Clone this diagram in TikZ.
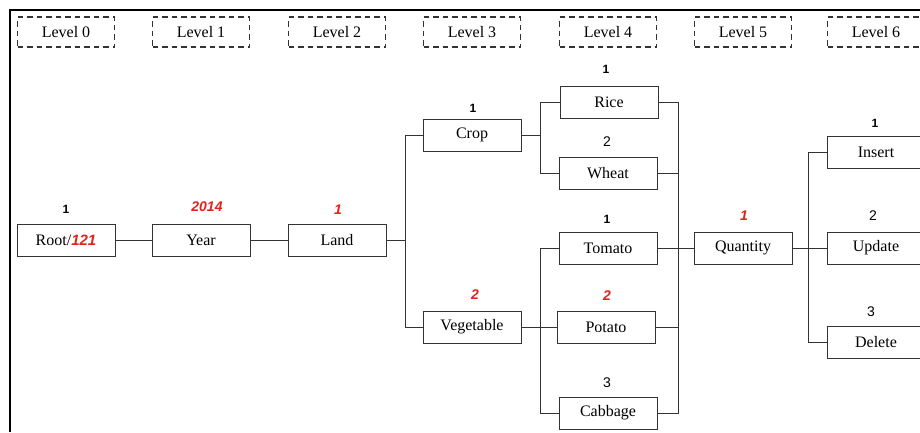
\documentclass[tikz,border=0pt]{standalone}
\usepackage{fontspec}
\setmainfont{Liberation Serif}
\setsansfont{Liberation Sans}
\definecolor{numred}{HTML}{E2231A}
\definecolor{lineg}{HTML}{333333}
\tikzset{
	lvl/.style={draw=lineg, dash pattern=on 5.5pt off 4pt, line width=1.2pt, minimum width=97pt, minimum height=30pt, font=\fontsize{16}{18}\selectfont},
	item/.style={draw=lineg, line width=1pt, minimum width=98pt, minimum height=32pt, font=\fontsize{16}{18}\selectfont},
	num/.style={font=\sffamily\fontsize{14}{14}\selectfont},
	numone/.style={font=\sffamily\bfseries\fontsize{12}{12}\selectfont},
	numred/.style={text=numred, font=\sffamily\bfseries\itshape\fontsize{14}{14}\selectfont},
	wire/.style={draw=lineg, line width=1pt}
}
\begin{document}
\begin{tikzpicture}[x=1pt, y=-1pt]
	\useasboundingbox (0,0) rectangle (920,432);
	\clip (0,0) rectangle (920,432);
	\fill[white] (0,0) rectangle (920,432);
	\draw[line width=2.2pt] (10,432) -- (10,10) -- (920,10);
	
	% levels
	\node[lvl] (l0) at (66, 32) {Level 0};
	\node[lvl] (l1) at (201, 32) {Level 1};
	\node[lvl] (l2) at (337, 32) {Level 2};
	\node[lvl] (l3) at (472, 32) {Level 3};
	\node[lvl] (l4) at (608, 32) {Level 4};
	\node[lvl] (l5) at (743, 32) {Level 5};
	\node[lvl] (l6) at (876, 32) {Level 6};
	
	% boxes
	\node[item] (root) at (66, 240) {Root/{\sffamily\bfseries\itshape\fontsize{15}{18}\selectfont\color{numred}121}};
	\node[item] (year) at (201, 240) {Year};
	\node[item] (land) at (337, 240) {Land};
	\node[item] (crop) at (472, 135) {Crop};
	\node[item] (veg) at (472, 327) {Vegetable};
	\node[item] (rice) at (609, 102) {Rice};
	\node[item] (wheat) at (608, 173) {Wheat};
	\node[item] (tomato) at (608, 248) {Tomato};
	\node[item] (potato) at (606, 327) {Potato};
	\node[item] (cabbage) at (608, 413) {Cabbage};
	\node[item] (qty) at (743, 248) {Quantity};
	\node[item] (ins) at (876, 152) {Insert};
	\node[item] (upd) at (876, 248) {Update};
	\node[item] (del) at (876, 342) {Delete};
	
	% numbers
	\node[numone] (n0) at (66, 209) {1};
	\node[numred] (n1) at (207, 207) {2014};
	\node[numred] (n2) at (338, 210) {1};
	\node[numone] (n3a) at (473, 108) {1};
	\node[numred] (n3b) at (475, 295) {2};
	\node[numone] (n4a) at (606, 69) {1};
	\node[num] (n4b) at (607, 142) {2};
	\node[numone] (n4c) at (607, 219) {1};
	\node[numred] (n4d) at (607, 296) {2};
	\node[num] (n4e) at (607, 383) {3};
	\node[numred] (n5) at (744, 216) {1};
	\node[numone] (n6a) at (875, 123) {1};
	\node[num] (n6b) at (873, 216) {2};
	\node[num] (n6c) at (871, 312) {3};
	
	% joints
	\coordinate (j1) at (405, 240);
	\coordinate (j2) at (540, 135);
	\coordinate (j3) at (540, 327);
	\coordinate (j4) at (678, 248);
	\coordinate (j5) at (808, 248);
	
	\draw[wire] (root) -- (year);
	\draw[wire] (year) -- (land);
	\draw[wire] (land) -- (j1);
	\draw[wire] (j1) |- (crop.west);
	\draw[wire] (j1) |- (veg.west);
	
	\draw[wire] (crop) -- (j2);
	\draw[wire] (j2) |- (rice.west);
	\draw[wire] (j2) |- (wheat.west);
	\draw[wire] (veg) -- (j3);
	\draw[wire] (j3) |- (tomato.west);
	\draw[wire] (j3) |- (potato.west);
	\draw[wire] (j3) |- (cabbage.west);
	
	\draw[wire] (rice.east) -| (j4);
	\draw[wire] (wheat.east) -| (j4);
	\draw[wire] (cabbage.east) -| (j4);
	\draw[wire] (potato.east) -| (j4);
	\draw[wire] (tomato) -- (qty);
	
	\draw[wire] (qty) -- (j5);
	\draw[wire] (j5) |- (ins.west);
	\draw[wire] (j5) |- (upd.west);
	\draw[wire] (j5) |- (del.west);
\end{tikzpicture}
\end{document}
